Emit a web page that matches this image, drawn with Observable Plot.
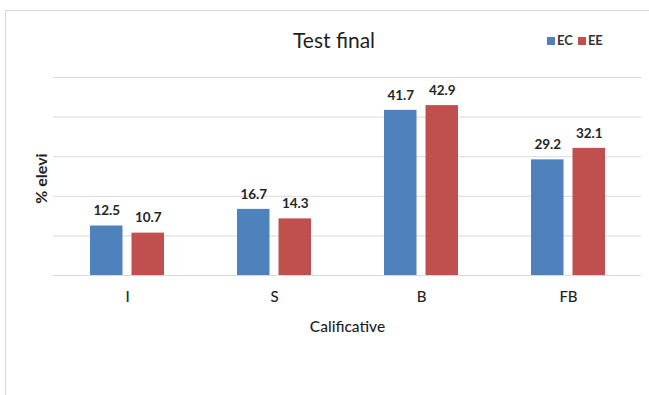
<!DOCTYPE html>
<html><head><meta charset="utf-8">
<script src="https://cdn.jsdelivr.net/npm/d3@7"></script>
<script src="https://cdn.jsdelivr.net/npm/@observablehq/plot@0.6"></script>
<style>
body{margin:0;background:#fff;font-family:Lato,"Open Sans",sans-serif;}
#wrap{position:relative;width:649px;height:395px;overflow:hidden;background:#fff;}
#frame{position:absolute;left:5px;top:10px;width:700px;height:500px;border:1px solid #d9d9d9;}
#title{position:absolute;left:0;width:668px;top:27px;text-align:center;font-size:21px;color:#1f1f1f;line-height:26px;}
#legend{position:absolute;left:547px;top:33px;font-size:13px;font-weight:bold;color:#333;display:flex;align-items:center;gap:5px;line-height:14px;}
#legend .sw{display:inline-block;width:8px;height:8px;margin-right:2px;}
#chart{position:absolute;left:0;top:0;}
</style></head>
<body>
<div id="wrap">
<div id="frame"></div>
<div id="chart"></div>
<div id="title">Test final</div>
<div id="legend"></div>
</div>
<script>
const categories = ["I", "S", "B", "FB"];
const series = ["EC", "EE"];
const ecValues = [12.5, 16.7, 41.7, 29.2];
const eeValues = [10.7, 14.3, 42.9, 32.1];
const yTicks = [0, 10, 20, 30, 40, 50];
const colors = ["#4f81bd", "#c0504d"];
const xLabel = "Calificative";
const yLabel = "% elevi";

const ec = categories.map((c, i) => ({cat: c, series: "EC", value: ecValues[i]}));
const ee = categories.map((c, i) => ({cat: c, series: "EE", value: eeValues[i]}));

const band = 73.5, barW = 32, off = band / 2 - barW / 2;

const chart = Plot.plot({
  width: 649, height: 395,
  marginLeft: 53, marginRight: 8, marginTop: 77, marginBottom: 120,
  style: {fontFamily: "Lato, 'Open Sans', sans-serif", background: "transparent"},
  x: {domain: categories, paddingInner: 0.5, paddingOuter: 0.25, label: null},
  y: {domain: [0, 50], axis: null},
  color: {domain: series, range: colors},
  marks: [
    Plot.ruleY(yTicks, {stroke: "#d9d9d9", strokeWidth: 1}),
    Plot.barY(ec, {x: "cat", y: "value", fill: d => d.series, insetRight: band - barW}),
    Plot.barY(ee, {x: "cat", y: "value", fill: d => d.series, insetLeft: band - barW}),
    Plot.text(ec, {x: "cat", y: "value", text: d => d.value.toFixed(1), dx: -off, dy: -15, fontSize: 13.5, fontWeight: "bold", fill: "#262626"}),
    Plot.text(ee, {x: "cat", y: "value", text: d => d.value.toFixed(1), dx: off, dy: -15, fontSize: 13.5, fontWeight: "bold", fill: "#262626"}),
    Plot.axisX({tickSize: 0, tickPadding: 16, fontSize: 15, fontWeight: 500, fill: "#1f1f1f", label: null}),
    Plot.text([xLabel], {frameAnchor: "bottom", lineAnchor: "middle", text: d => d, dy: 52, fontSize: 15.5, fontWeight: 500, fill: "#1f1f1f"}),
    Plot.text([yLabel], {frameAnchor: "left", textAnchor: "middle", lineAnchor: "middle", text: d => d, rotate: -90, dx: -12, dy: 2, fontSize: 16, fontWeight: "bold", fill: "#1f1f1f"})
  ]
});
document.getElementById("chart").appendChild(chart);

const legend = document.getElementById("legend");
series.forEach((s, i) => {
  const item = document.createElement("span");
  item.innerHTML = `<span class="sw" style="background:${colors[i]}"></span>${s}`;
  legend.appendChild(item);
});
</script>
</body></html>
